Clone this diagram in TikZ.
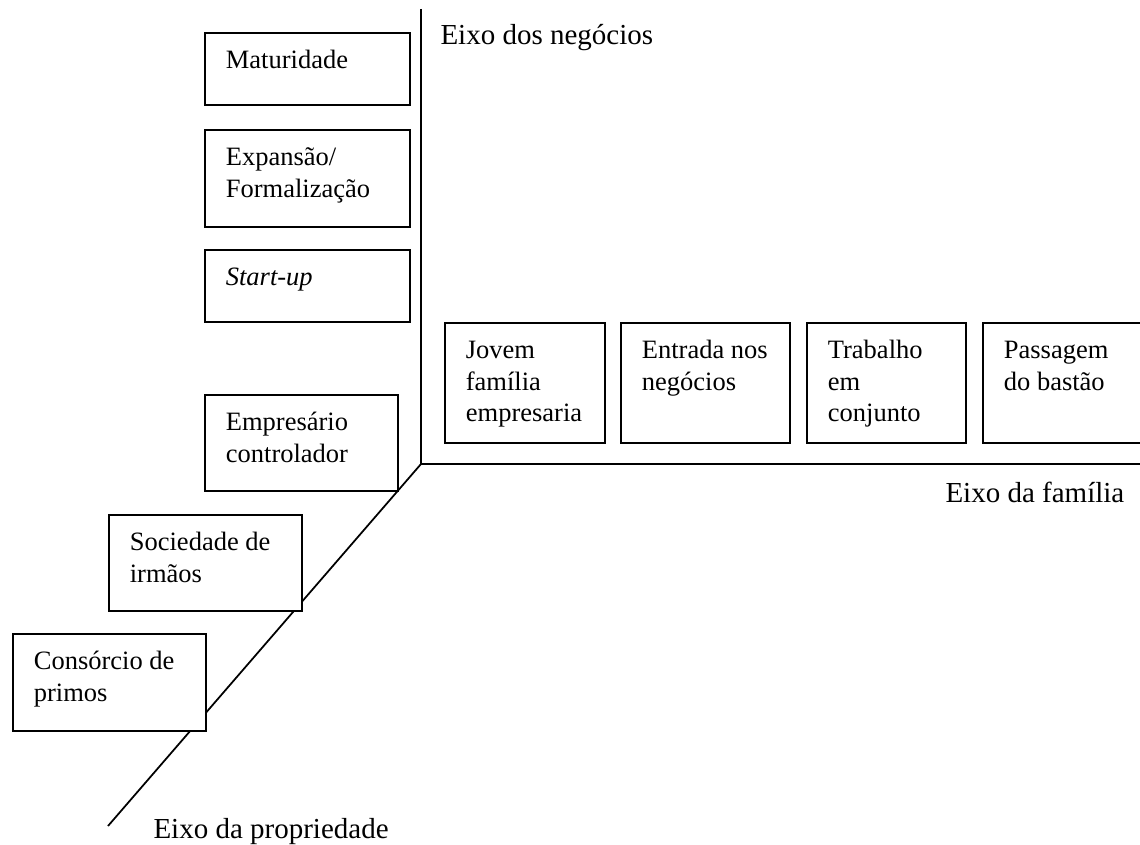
\documentclass[tikz,border=0pt]{standalone}
\usepackage{fontspec}
\setmainfont{Liberation Serif}
\begin{document}
\begin{tikzpicture}[x=0.4pt,y=-0.4pt,
    stage/.style={draw, line width=0.7pt, fill=white, anchor=north west,
        inner xsep=8.4pt, inner ysep=0pt, align=flush left, text height=14.4pt,
        font=\fontsize{10.6pt}{12.5pt}\selectfont},
    axislabel/.style={anchor=base west, inner sep=0pt,
        font=\fontsize{11.6pt}{13pt}\selectfont}]
\useasboundingbox (0,0) rectangle (1140,845);
% the three axes
\coordinate (o) at (421,464);
\coordinate (negtop) at (421,9);
\coordinate (famend) at (1140,464);
\coordinate (propend) at (108,826);
\draw[line width=0.7pt] (negtop) -- (o) -- (famend);
\draw[line width=0.7pt] (o) -- (propend);
\node[axislabel] (lblneg) at (440,45) {Eixo dos neg\'ocios};
\node[axislabel] (lblfam) at (945,502) {Eixo da fam\'ilia};
\node[axislabel] (lblprop) at (153,838) {Eixo da propriedade};
% business stages
\node[stage, text width=65.2pt, text depth=14.4pt] (matur) at (204,32) {Maturidade};
\node[stage, text width=65.2pt, text depth=24.4pt] (expans) at (204,129) {Expans\~ao/\\Formaliza\c{c}\~ao};
\node[stage, text width=65.2pt, text depth=14.4pt] (startup) at (204,249) {\textit{Start-up}};
% ownership stages
\node[stage, text width=60.4pt, text depth=24pt] (empres) at (204,394) {Empres\'ario\\controlador};
\node[stage, text width=60.4pt, text depth=24pt] (socied) at (108,514) {Sociedade de\\irm\~aos};
\node[stage, text width=60.4pt, text depth=24.4pt] (consor) at (12,633) {Cons\'orcio de\\primos};
% family stages
\node[stage, text width=47.2pt, text depth=33.6pt] (jovem) at (444,322) {Jovem\\fam\'ilia\\empresaria};
\node[stage, text width=50.8pt, text depth=33.6pt] (entrada) at (620,322) {\mbox{Entrada nos}\\neg\'ocios};
\node[stage, text width=46.8pt, text depth=33.6pt] (trabalho) at (806,322) {Trabalho\\em\\conjunto};
\node[stage, text width=49.2pt, text depth=33.6pt] (passagem) at (982,322) {Passagem\\do bast\~ao};
\end{tikzpicture}
\end{document}
